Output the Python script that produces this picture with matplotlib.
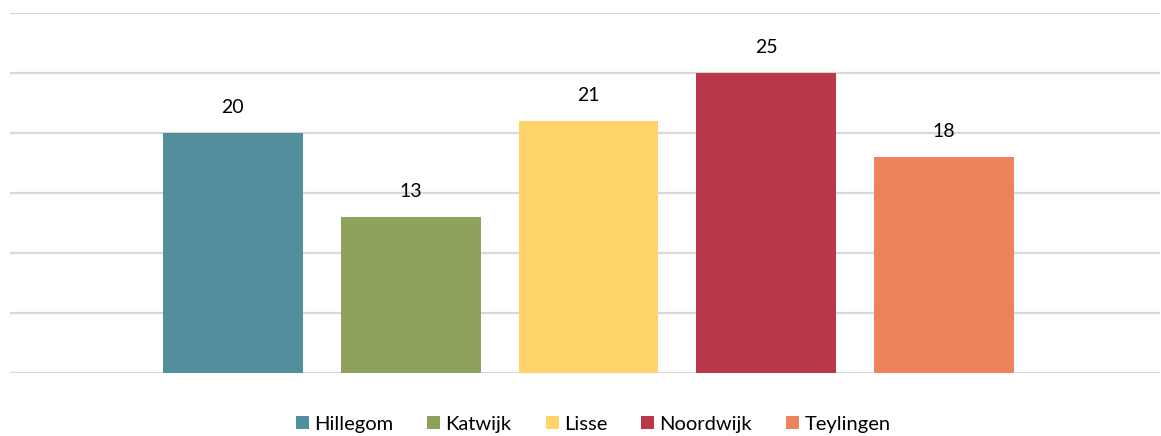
import matplotlib.pyplot as plt

plt.rcParams['font.family'] = ['Lato', 'DejaVu Sans']

gemeenten = ["Hillegom", "Katwijk", "Lisse", "Noordwijk", "Teylingen"]
waarden = [20, 13, 21, 25, 18]
kleuren = ["#528E9B", "#8EA15D", "#FED46B", "#B9394A", "#EC835B"]

fig = plt.figure(figsize=(11.61, 4.36), dpi=100)
ax = fig.add_axes([10 / 1161, 63 / 436, 1150 / 1161, 360 / 436])

width = 140 / 178
for i, (naam, val, kleur) in enumerate(zip(gemeenten, waarden, kleuren)):
    bars = ax.bar(i, val, width=width, color=kleur, label=naam, zorder=2)
    ax.bar_label(bars, padding=12, fontsize=14, color="#000000")

ax.set_xlim(-1.253, 5.213)
ax.set_ylim(0, 30)
ax.set_yticks(range(0, 31, 5))
ax.yaxis.grid(True, color="#d9d9d9", linewidth=1.6, zorder=0)
ax.tick_params(left=False, bottom=False, labelleft=False, labelbottom=False)
for s in ax.spines.values():
    s.set_visible(False)
ax.set_axisbelow(True)

fig.legend(loc="center", bbox_to_anchor=(593 / 1161, 1 - 424 / 436), ncol=5,
           frameon=False, fontsize=14.5, handlelength=0.65, handleheight=0.65,
           handletextpad=0.25, columnspacing=1.7)

fig.savefig("out.png", dpi=100)
